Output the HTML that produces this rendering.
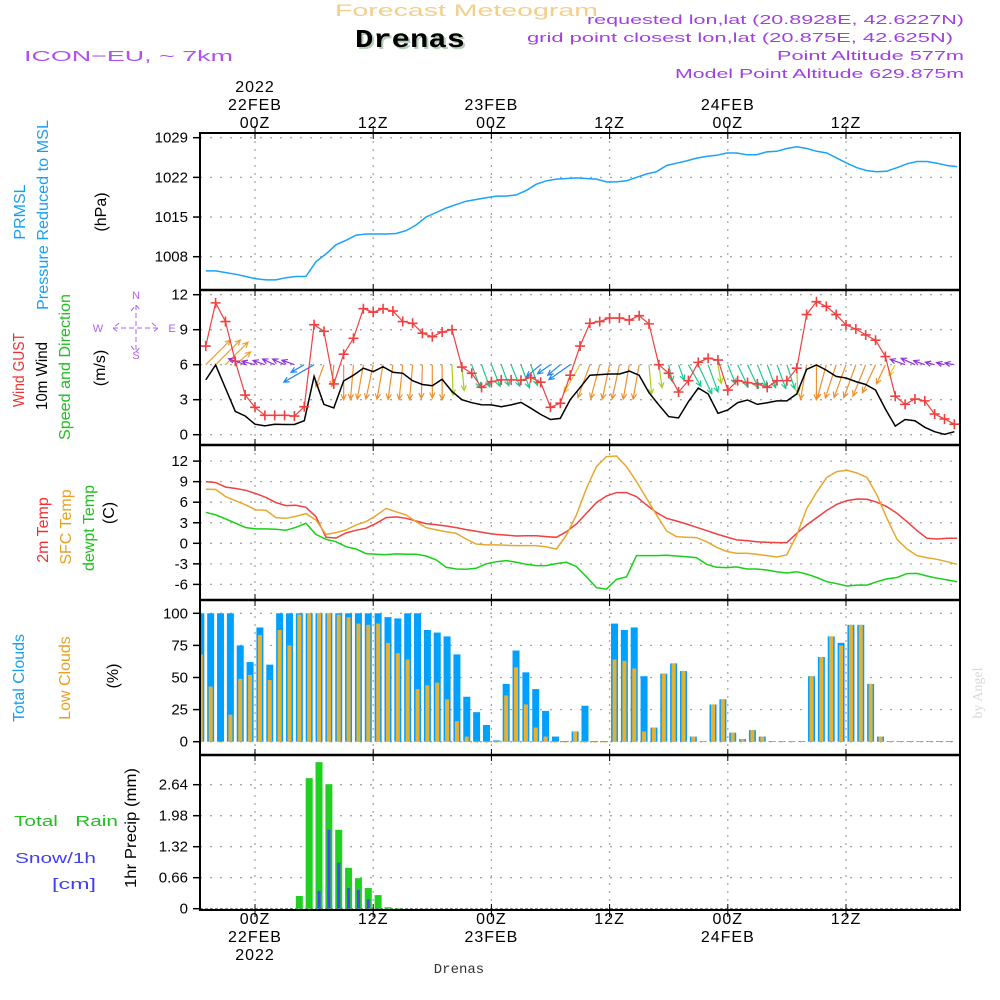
<!DOCTYPE html>
<html><head><meta charset="utf-8"><style>
html,body{margin:0;padding:0;background:#fff;}
svg{display:block;font-family:"Liberation Sans",sans-serif;}
</style></head><body>
<svg id="chart" width="1000" height="1000" viewBox="0 0 1000 1000" xmlns="http://www.w3.org/2000/svg">
<rect x="0" y="0" width="1000" height="1000" fill="#fff"/>
<defs>
<clipPath id="c1"><rect x="200" y="133" width="760" height="157"/></clipPath>
<clipPath id="c2"><rect x="200" y="290" width="760" height="155"/></clipPath>
<clipPath id="c3"><rect x="200" y="445" width="760" height="155"/></clipPath>
<clipPath id="c4"><rect x="200" y="600" width="760" height="155"/></clipPath>
<clipPath id="c5"><rect x="200" y="755" width="760" height="155"/></clipPath>
</defs>
<!-- header -->
<text x="335" y="16" font-size="17" fill="#f2cf8a" textLength="263" lengthAdjust="spacingAndGlyphs">Forecast Meteogram</text>
<text x="357" y="49" font-size="26" font-weight="bold" font-family="Liberation Mono, monospace" fill="#b8ccb8" textLength="110" lengthAdjust="spacingAndGlyphs">Drenas</text>
<text x="355" y="47" font-size="26" font-weight="bold" font-family="Liberation Mono, monospace" fill="#000" textLength="110" lengthAdjust="spacingAndGlyphs">Drenas</text>
<text x="24" y="61" font-size="15" fill="#b050f0" textLength="209" lengthAdjust="spacingAndGlyphs">ICON−EU, ~ 7km</text>
<g font-size="13" fill="#a040e0">
<text x="587" y="24" textLength="377" lengthAdjust="spacingAndGlyphs">requested lon,lat (20.8928E, 42.6227N)</text>
<text x="527" y="42" textLength="426" lengthAdjust="spacingAndGlyphs">grid point closest lon,lat (20.875E, 42.625N)</text>
<text x="777" y="60" textLength="187" lengthAdjust="spacingAndGlyphs">Point Altitude 577m</text>
<text x="675" y="78" textLength="289" lengthAdjust="spacingAndGlyphs">Model Point Altitude 629.875m</text>
</g>
<g id="grid"></g>
<g id="data"></g>
<g id="axes"></g>
<!-- left labels -->
<g font-size="16" text-anchor="middle">
<text transform="translate(25,212) rotate(-90)" fill="#18a0f0">PRMSL</text>
<text transform="translate(48,215) rotate(-90)" fill="#18a0f0" textLength="190" lengthAdjust="spacingAndGlyphs">Pressure Reduced to MSL</text>
<text transform="translate(106,212) rotate(-90)" fill="#000">(hPa)</text>
<text transform="translate(24,370) rotate(-90)" fill="#f03030" textLength="74" lengthAdjust="spacingAndGlyphs">Wind GUST</text>
<text transform="translate(47,376) rotate(-90)" fill="#000" textLength="68" lengthAdjust="spacingAndGlyphs">10m Wind</text>
<text transform="translate(70,367) rotate(-90)" fill="#20c020" textLength="146" lengthAdjust="spacingAndGlyphs">Speed and Direction</text>
<text transform="translate(105,368) rotate(-90)" fill="#000">(m/s)</text>
<text transform="translate(48,530) rotate(-90)" fill="#f03030">2m Temp</text>
<text transform="translate(71,527) rotate(-90)" fill="#e8a020">SFC Temp</text>
<text transform="translate(94,528) rotate(-90)" fill="#20c020">dewpt Temp</text>
<text transform="translate(114,513) rotate(-90)" fill="#000">(C)</text>
<text transform="translate(24,678) rotate(-90)" fill="#18a0f0">Total Clouds</text>
<text transform="translate(70,678) rotate(-90)" fill="#e8a020">Low Clouds</text>
<text transform="translate(118,676) rotate(-90)" fill="#000">(%)</text>
<text transform="translate(136,828) rotate(-90)" fill="#000" textLength="120" lengthAdjust="spacingAndGlyphs">1hr Precip (mm)</text>
</g>
<g font-size="15">
<text x="14" y="826" fill="#20c020" textLength="104" lengthAdjust="spacingAndGlyphs">Total&#160;&#160;&#160;Rain</text>
<text x="15" y="863" fill="#4040f0" textLength="81" lengthAdjust="spacingAndGlyphs">Snow/1h</text>
<text x="52" y="889" fill="#4040f0" textLength="44" lengthAdjust="spacingAndGlyphs">[cm]</text>
</g>
<g fill="#b060f0" stroke="none" font-size="11" text-anchor="middle">
<text x="136" y="299">N</text><text x="136" y="359">S</text><text x="98" y="332">W</text><text x="172" y="332">E</text>
<path d="M136 305 V352 M113 328 H158 M131 311 L136 305 L141 311 M131 346 L136 352 L141 346 M119 323 L113 328 L119 333 M152 323 L158 328 L152 333" stroke="#b060f0" stroke-width="1" fill="none" stroke-dasharray="5,3"/>
</g>
<text transform="translate(982,693) rotate(-90)" text-anchor="middle" font-size="14" font-family="Liberation Serif, serif" fill="#d8d8d8">by Angel</text>
<text x="459" y="973" text-anchor="middle" font-size="14" font-family="Liberation Mono, monospace" fill="#333">Drenas</text>
</svg>
<script>
// ---------- data ----------
const pressure = [1005.5,1005.5,1005.2,1004.9,1004.5,1004.1,1003.9,1003.9,1004.3,1004.5,1004.5,1007.1,1008.5,1010.1,1010.9,1011.8,1012.0,1012.0,1012.0,1012.1,1012.6,1013.6,1015.0,1015.8,1016.6,1017.2,1017.8,1018.1,1018.4,1018.7,1018.7,1018.9,1019.7,1020.8,1021.4,1021.7,1021.8,1021.9,1021.8,1021.7,1021.2,1021.2,1021.4,1022.0,1022.6,1023.0,1024.1,1024.5,1024.9,1025.4,1025.7,1025.9,1026.3,1026.3,1026.0,1026.0,1026.5,1026.6,1027.1,1027.4,1027.1,1026.6,1026.3,1025.4,1024.5,1023.7,1023.2,1023.0,1023.1,1023.7,1024.4,1024.8,1024.8,1024.5,1024.1,1023.9];
const temp2m = [9.0,8.86,8.2,8.0,7.74,7.25,6.7,5.94,5.5,5.55,5.26,3.9,0.88,0.78,1.5,1.9,2.2,2.9,3.75,3.85,3.65,3.26,2.87,2.7,2.53,2.29,2.0,1.75,1.5,1.3,1.2,1.07,1.1,1.1,0.98,0.88,1.7,2.82,4.38,5.94,6.9,7.4,7.4,6.8,5.6,4.5,3.65,3.26,2.82,2.34,1.85,1.36,0.92,0.49,0.39,0.24,0.14,0.1,0.1,1.46,2.68,3.75,4.8,5.7,6.23,6.47,6.42,6.0,5.35,4.38,3.16,1.85,0.73,0.63,0.73,0.73];
const tempSfc = [7.9,7.85,6.8,6.2,5.6,4.87,4.82,3.75,3.65,3.94,4.33,3.4,1.3,1.56,1.95,2.68,3.16,4.04,5.1,4.6,4.14,3.16,2.29,1.95,1.7,1.46,0.63,-0.1,-0.24,-0.24,-0.29,-0.34,-0.34,-0.34,-0.53,-0.83,1.2,4.14,8.0,11.2,12.65,12.75,11.2,9.0,6.57,4.14,1.8,0.97,0.88,0.83,0.24,-0.58,-1.2,-1.46,-1.46,-1.6,-1.8,-2.0,-1.7,1.2,5.1,7.5,9.6,10.46,10.65,10.27,9.6,7.06,3.65,0.58,-0.83,-1.8,-2.1,-2.34,-2.68,-3.07];
const dewpt = [4.53,4.14,3.55,2.92,2.29,2.1,2.1,2.05,1.9,2.34,2.92,1.3,0.58,0.24,-0.49,-0.83,-1.5,-1.6,-1.65,-1.55,-1.6,-1.6,-1.85,-2.43,-3.5,-3.75,-3.8,-3.65,-3.0,-2.68,-2.53,-2.77,-3.07,-3.26,-3.26,-2.97,-2.77,-3.4,-4.87,-6.47,-6.7,-5.25,-4.9,-1.8,-1.8,-1.8,-1.75,-1.85,-1.95,-2.1,-3.07,-3.5,-3.55,-3.45,-3.75,-3.75,-3.9,-4.14,-4.33,-4.14,-4.5,-5.0,-5.6,-5.9,-6.23,-6.1,-6.1,-5.6,-5.2,-5.0,-4.43,-4.4,-4.77,-5.1,-5.35,-5.6];
const gust = [7.6,11.3,9.7,6.3,3.4,2.35,1.66,1.66,1.66,1.6,2.4,9.43,8.86,4.35,6.9,8.26,10.8,10.5,10.8,10.6,9.7,9.55,8.7,8.4,8.8,9.0,5.8,5.26,4.06,4.55,4.7,4.7,4.67,4.9,4.5,2.35,2.7,5.1,7.6,9.55,9.7,10.0,10.0,9.83,10.2,9.5,6.0,5.26,3.66,4.63,6.2,6.55,6.4,3.83,4.63,4.46,4.35,4.06,4.63,4.63,5.7,10.3,11.4,11.0,10.3,9.4,9.06,8.55,8.1,6.7,3.3,2.6,3.06,2.9,1.77,1.35,0.9];
const windSpeed = [4.7,5.97,4.0,2.0,1.6,0.9,0.75,0.9,0.87,0.87,1.2,5.0,2.6,2.3,4.6,5.1,5.7,5.4,5.83,5.35,5.26,4.63,4.3,4.2,4.75,3.7,3.0,2.74,2.57,2.55,2.4,2.55,2.77,2.27,1.74,1.3,1.4,3.0,4.03,5.1,5.15,5.2,5.2,5.45,5.1,3.6,2.55,1.55,1.43,2.83,4.0,3.5,1.83,2.12,2.74,2.97,2.6,2.74,2.9,2.9,3.5,5.6,5.97,5.54,5.0,4.86,4.55,4.3,3.83,2.2,0.74,1.3,1.2,0.63,0.26,0.03,0.26];
const windDir = [45,45,45,50,290,285,290,295,295,290,240,240,200,185,180,185,190,192,190,188,186,185,182,180,180,178,175,160,160,158,160,158,160,162,230,235,230,235,210,200,195,192,192,190,190,175,172,168,160,150,155,160,170,158,155,155,158,160,160,162,178,190,180,195,198,200,200,202,205,205,210,290,295,290,285,285,280];
const totalCloud = [100,100,100,100,75,62,89,60,100,100,100,100,100,100,100,100,100,100,100,97,96,100,100,87,85,82,68,35,23,13,1,45,71,54,41,24,4,0.5,8,28,0.5,0.5,92,87,89,51,11,53,61,55,4,0.5,29,33,7,2,9,4,0.5,0.5,0.5,0.5,51,66,82,77,91,91,45,4,0.5,0.5,0.5,0.5,0.5,0.5,0.5];
const lowCloud = [68,43,0,21,49,52,83,48,87,75,99,100,100,100,99,97,92,91,92,77,69,64,41,44,46,33,16,4,0,0,0,36,58,29,11,4,0,0,8,0,0,0,64,63,57,8,11,53,61,55,4,0.5,29,33,7,2,9,4,0.5,0.5,0.5,0.5,51,66,82,75,91,91,45,4,0.5,0.5,0.5,0.5,0.5,0.5,0.5];
const rain = [0,0,0,0,0,0,0,0,0,0,0.27,2.78,3.12,2.65,1.68,0.87,0.65,0.44,0.29,0.03,0.01,0,0,0,0,0,0,0,0,0,0,0,0,0,0,0,0,0,0,0,0,0,0,0,0,0,0,0,0,0,0,0,0,0,0,0,0,0,0,0,0,0,0,0,0,0,0,0,0,0,0,0,0,0,0,0,0];
const snow = [0,0,0,0,0,0,0,0,0,0,0,0,0.38,1.68,0.98,0.44,0.4,0.2,0.01,0,0,0,0,0,0,0,0,0,0,0,0,0,0,0,0,0,0,0,0,0,0,0,0,0,0,0,0,0,0,0,0,0,0,0,0,0,0,0,0,0,0,0,0,0,0,0,0,0,0,0,0,0,0,0,0,0,0];
const pTicks = [1029,1022,1015,1008];
const wTicks = [12,9,6,3,0];
const tTicks = [12,9,6,3,0,-3,-6];
const cTicks = [100,75,50,25,0];
const rTicks = [2.64,1.98,1.32,0.66,0];
const timeTicks = [0,12,24,36,48,60];
const topLabels = [["2022","22FEB","00Z"],["","","12Z"],["","23FEB","00Z"],["","","12Z"],["","24FEB","00Z"],["","","12Z"]];
const botLabels = [["00Z","22FEB","2022"],["12Z","",""],["00Z","23FEB",""],["12Z","",""],["00Z","24FEB",""],["12Z","",""]];
const lineStart = -5;
const lineStep = 1.017;
const barStart = -5.5;
// ---------- scales ----------
const PX_H = 9.85;
const X = t => 255 + PX_H * t;
const yP = p => 137.7 + (1029 - p) * 5.667;
const yW = v => 434.7 - v * 11.667;
const yT = c => 543.3 - c * 6.85;
const yC = c => 741.7 - c * 1.284;
const yR = r => 908.7 - r * 46.97;
const NS = "http://www.w3.org/2000/svg";
function mk(tag, attrs, parent) { const e = document.createElementNS(NS, tag); for (const k in attrs) e.setAttribute(k, attrs[k]); parent.appendChild(e); return e; }
const G = document.getElementById('grid'), D = document.getElementById('data'), A = document.getElementById('axes');
const panels = [{top:133,bot:290,ticks:pTicks,f:yP,lab:v=>String(v)},{top:290,bot:445,ticks:wTicks,f:yW,lab:v=>String(v)},{top:445,bot:600,ticks:tTicks,f:yT,lab:v=>String(v)},{top:600,bot:755,ticks:cTicks,f:yC,lab:v=>String(v)},{top:755,bot:910,ticks:rTicks,f:yR,lab:v=>v===0?"0":v.toFixed(2)}];
panels.forEach((p, pi) => {
  timeTicks.forEach(t => {
    const l = mk('line', {x1:X(t), x2:X(t), y1:p.top, y2:p.bot, stroke:'#a8a8a8', 'stroke-width':1.3, 'stroke-dasharray':'2,6'}, G);
    
    
  });
  p.ticks.forEach(v => {
    const y = p.f(v);
    const l = mk('line', {x1:200, x2:960, y1:y, y2:y, stroke:'#a8a8a8', 'stroke-width':1.3, 'stroke-dasharray':'2,8'}, G);
    
    
    mk('line', {x1:193, x2:200, y1:y, y2:y, stroke:'#000', 'stroke-width':1.5}, A);
    const tx = mk('text', {x:188, y:y+5, 'text-anchor':'end', 'font-size':15, fill:'#000'}, A);
    tx.textContent = p.lab(v);
    
    
  });
  timeTicks.forEach(t => {
    mk('line', {x1:X(t), x2:X(t), y1:p.top, y2:p.top+6, stroke:'#000', 'stroke-width':1}, A);
    mk('line', {x1:X(t), x2:X(t), y1:p.bot-6, y2:p.bot, stroke:'#000', 'stroke-width':1}, A);
  });
});
mk('rect', {x:200, y:133, width:760, height:777, fill:'none', stroke:'#000', 'stroke-width':2}, A);
[290,445,600,755].forEach(y => mk('line', {x1:200, x2:960, y1:y, y2:y, stroke:'#000', 'stroke-width':2.5}, A));
timeTicks.forEach((t, i) => {
  mk('line', {x1:X(t), x2:X(t), y1:126, y2:133, stroke:'#000', 'stroke-width':1}, A);
  mk('line', {x1:X(t), x2:X(t), y1:910, y2:917, stroke:'#000', 'stroke-width':1}, A);
  topLabels[i].forEach((s, k) => { if (!s) return;
    const tx = mk('text', {x:X(t), y:92+k*18, 'text-anchor':'middle', 'font-size':16, fill:'#000', 'letter-spacing':'1'}, A);
    tx.textContent = s;
    
    
  });
  botLabels[i].forEach((s, k) => { if (!s) return;
    const tx = mk('text', {x:X(t), y:924+k*18, 'text-anchor':'middle', 'font-size':16, fill:'#000', 'letter-spacing':'1'}, A);
    tx.textContent = s;
    
    
  });
});
function line(arr, yf, times, color, clip, name, w) {
  const d = arr.map((v, i) => (i ? 'L' : 'M') + X(times(i)).toFixed(1) + ' ' + yf(v).toFixed(1)).join(' ');
  const p = mk('path', {d, fill:'none', stroke:color, 'stroke-width':w||1.5, 'clip-path':'url(#'+clip+')'}, D);
  
  
}
const lt = i => lineStart + i * lineStep;
const ht = i => lineStart + i;
const bt = i => barStart + i;
line(pressure, yP, lt, '#1aa4f4', 'c1', 'pressure-line');
line(temp2m, yT, lt, '#f04040', 'c3', 'temp-2m-line');
line(tempSfc, yT, lt, '#e8a830', 'c3', 'sfc-temp-line');
line(dewpt, yT, lt, '#18d018', 'c3', 'dewpoint-line');
function dirColor(d) { if (d < 100) return '#f0a030'; if (d < 170) return '#20c890'; if (d < 180) return '#a8d020'; if (d <= 205) return '#f09030'; if (d <= 215) return '#e0d020'; if (d <= 250) return '#2088f0'; return '#9030e0'; }
windDir.forEach((d, i) => {
  const x0 = X(ht(i)), y0 = yW(6), L = Math.min(35, 8 + 6 * windSpeed[i]), r = d * Math.PI / 180;
  const x1 = x0 + L * Math.sin(r), y1 = y0 - L * Math.cos(r);
  const hl = 6, a1 = r + Math.PI - 0.45, a2 = r + Math.PI + 0.45;
  const p = mk('path', {d:`M${x0} ${y0} L${x1} ${y1} M${x1 + hl*Math.sin(a1)} ${y1 - hl*Math.cos(a1)} L${x1} ${y1} L${x1 + hl*Math.sin(a2)} ${y1 - hl*Math.cos(a2)}`, fill:'none', stroke:dirColor(d), 'stroke-width':1.2, 'clip-path':'url(#c2)'}, D);
  
  
});
line(windSpeed, yW, ht, '#000', 'c2', 'wind-speed-line');
line(gust, yW, ht, '#f04040', 'c2', 'wind-gust-line', 1.2);
gust.forEach((v, i) => {
  const x = X(ht(i)), y = yW(v);
  const p = mk('path', {d:`M${x-5} ${y} H${x+5} M${x} ${y-5} V${y+5}`, stroke:'#f04040', 'stroke-width':1.6, 'clip-path':'url(#c2)'}, D);
  
  
});
totalCloud.forEach((v, i) => {
  const x = X(bt(i));
  const r = mk('rect', {x:x-3.5, y:yC(v), width:7, height:Math.max(0.8, yC(0)-yC(v)), fill:'#00a0ff', 'clip-path':'url(#c4)'}, D);
  
  
  const l = lowCloud[i];
  const r2 = mk('rect', {x:x-2, y:yC(l), width:4, height:Math.max(0.8, yC(0)-yC(l)), fill:'#e8b030', 'clip-path':'url(#c4)'}, D);
  
  
});
mk('line', {x1:200, x2:960, y1:yR(0), y2:yR(0), stroke:'#666', 'stroke-width':1, 'stroke-dasharray':'3,2'}, D);
rain.forEach((v, i) => {
  if (v <= 0) return;
  const x = X(bt(i));
  const r = mk('rect', {x:x-3.5, y:yR(v), width:7, height:yR(0)-yR(v), fill:'#20d020', 'clip-path':'url(#c5)'}, D);
  
  
});
snow.forEach((v, i) => {
  if (v <= 0) return;
  const x = X(bt(i));
  const r = mk('rect', {x:x-1.5, y:yR(v), width:3, height:yR(0)-yR(v), fill:'#4848f8', 'clip-path':'url(#c5)'}, D);
  
  
});
</script>
</body></html>
